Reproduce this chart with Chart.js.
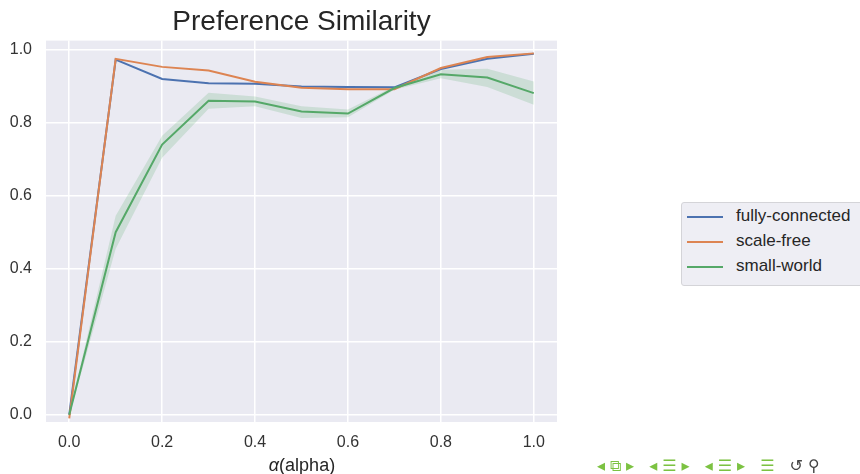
<!DOCTYPE html>
<html lang="en">
  <head>
    <meta charset="UTF-8" />
    <script src="https://cdn.jsdelivr.net/npm/chart.js@4/dist/chart.umd.min.js"></script>
    <title>Preference Similarity</title>
    <style>
      body { margin: 0; background: #fff; font-family: "Liberation Sans", Arial, sans-serif; }
      #wrap { position: relative; width: 860px; height: 474px; overflow: hidden; }
      #xtitle { position: absolute; left: 0; width: 604px; top: 455px; text-align: center; font-size: 18px; color: #262626; }
      #legend { position: absolute; left: 681px; top: 202px; width: 200px; height: 82px; background: #eeeef4; border: 1px solid #d4d4d8; border-radius: 3px; }
      .row { position: absolute; left: 0; height: 22px; font-size: 17px; color: #262626; }
      .row span.sw { position: absolute; left: 5px; top: 10px; width: 36px; height: 2px; }
      .row span.tx { position: absolute; left: 54px; top: 0px; white-space: nowrap; }
      #nav { position: absolute; left: 597px; top: 456px; font-size: 16px; color: #7cc242; white-space: nowrap; letter-spacing: 5px; font-family: "DejaVu Sans", sans-serif; }
      #nav .g { color: #444; }
    </style>
  </head>
  <body>
    <div id="wrap">
      <canvas id="chart" width="860" height="474"></canvas>
      <div id="xtitle"><i>α</i>(alpha)</div>
      <div id="legend"></div>
      <div id="nav">◂⧉▸ ◂☰▸ ◂☰▸  ☰  <span class="g">↺⚲</span></div>
    </div>
    <script>
      const alphas = [0.0, 0.1, 0.2, 0.3, 0.4, 0.5, 0.6, 0.7, 0.8, 0.9, 1.0];
      const fullyConnected = [0.0, 0.973, 0.92, 0.908, 0.907, 0.899, 0.898, 0.897, 0.947, 0.975, 0.989];
      const scaleFree = [-0.01, 0.975, 0.953, 0.943, 0.912, 0.896, 0.892, 0.892, 0.95, 0.98, 0.99];
      const smallWorld = [0.0, 0.5, 0.74, 0.86, 0.858, 0.831, 0.825, 0.895, 0.933, 0.924, 0.881];
      const smallWorldHigh = [0.005, 0.545, 0.764, 0.882, 0.872, 0.845, 0.836, 0.9, 0.945, 0.948, 0.913];
      const smallWorldLow = [-0.005, 0.455, 0.704, 0.838, 0.845, 0.813, 0.815, 0.89, 0.922, 0.898, 0.849];
      const xTicks = [0.0, 0.2, 0.4, 0.6, 0.8, 1.0];
      const yTicks = [0.0, 0.2, 0.4, 0.6, 0.8, 1.0];

      const series = [
        { label: "fully-connected", data: fullyConnected, color: "#4c72b0", order: 2 },
        { label: "scale-free", data: scaleFree, color: "#dd8452", order: 1 },
        { label: "small-world", data: smallWorld, color: "#55a868", order: 0 },
      ];

      const pts = (arr) => arr.map((v, i) => ({ x: alphas[i], y: v }));

      const datasets = series.map((s) => ({
        label: s.label,
        data: pts(s.data),
        borderColor: s.color,
        borderWidth: 2,
        pointRadius: 0,
        tension: 0,
        fill: false,
        order: s.order,
      }));
      // confidence band for small-world
      datasets.push({
        label: "sw-high",
        data: pts(smallWorldHigh),
        borderWidth: 0,
        pointRadius: 0,
        fill: false,
        order: 5,
      });
      datasets.push({
        label: "sw-low",
        data: pts(smallWorldLow),
        borderWidth: 0,
        pointRadius: 0,
        fill: "-1",
        backgroundColor: "rgba(85,168,104,0.2)",
        order: 5,
      });

      const plotBg = {
        id: "plotBg",
        beforeDraw(chart) {
          const a = chart.chartArea;
          const c = chart.ctx;
          c.save();
          c.fillStyle = "#eaeaf2";
          c.fillRect(a.left, a.top, a.right - a.left, a.bottom - a.top);
          c.restore();
        },
      };

      const tickFont = { family: "'Liberation Sans', Arial, sans-serif", size: 16 };

      new Chart(document.getElementById("chart"), {
        type: "line",
        data: { datasets },
        plugins: [plotBg],
        options: {
          responsive: false,
          animation: false,
          layout: { padding: { left: 0, right: 303, top: 0, bottom: 0 } },
          plugins: {
            legend: { display: false },
            tooltip: { enabled: false },
            title: {
              display: true,
              fullSize: false,
              text: "Preference Similarity",
              color: "#262626",
              font: { family: "'Liberation Sans', Arial, sans-serif", size: 28, weight: "normal" },
              padding: { top: 5, bottom: 2 },
            },
          },
          scales: {
            x: {
              type: "linear",
              min: -0.05,
              max: 1.05,
              afterBuildTicks: (s) => { s.ticks = xTicks.map((v) => ({ value: v })); },
              afterFit: (s) => { s.height = 52; },
              grid: { color: "#ffffff", lineWidth: 1.5, drawTicks: false },
              border: { display: false },
              ticks: { color: "#333", font: tickFont, padding: 11, callback: (v) => v.toFixed(1) },
            },
            y: {
              min: -0.02,
              max: 1.025,
              afterBuildTicks: (s) => { s.ticks = yTicks.map((v) => ({ value: v })); },
              afterFit: (s) => { s.width = 46; },
              grid: { color: "#ffffff", lineWidth: 1.5, drawTicks: false },
              border: { display: false },
              ticks: { color: "#333", font: tickFont, padding: 14, callback: (v) => v.toFixed(1) },
            },
          },
        },
      });

      // legend in html
      const legend = document.getElementById("legend");
      series.forEach((s, i) => {
        const row = document.createElement("div");
        row.className = "row";
        row.style.top = 3 + i * 25 + "px";
        row.innerHTML = '<span class="sw" style="background:' + s.color + '"></span><span class="tx">' + s.label + "</span>";
        legend.appendChild(row);
      });
    </script>
  </body>
</html>
